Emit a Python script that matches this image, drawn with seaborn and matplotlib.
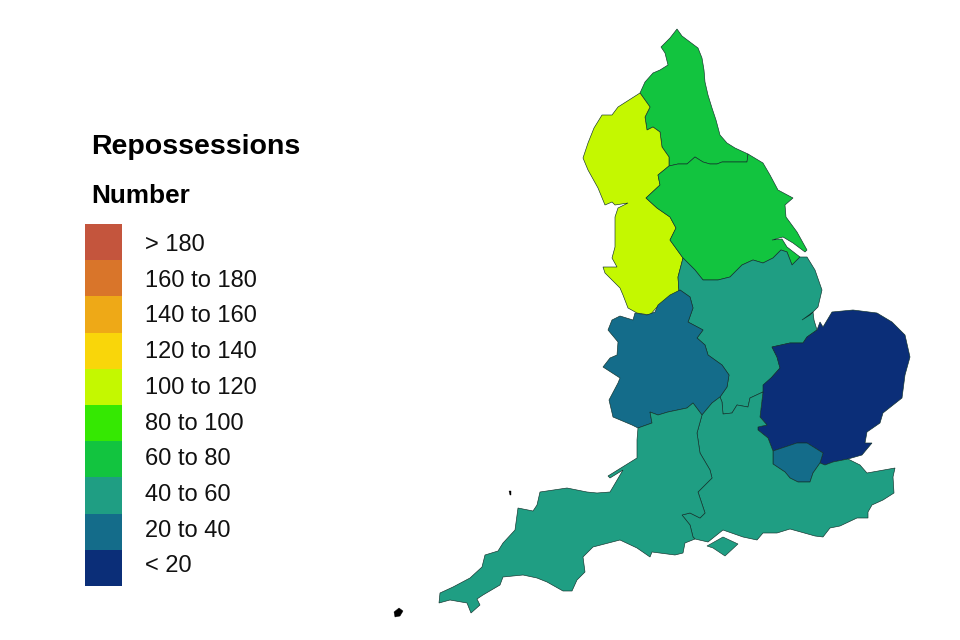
import numpy as np
import pandas as pd
import matplotlib
matplotlib.use('Agg')
import matplotlib.pyplot as plt
from matplotlib.colors import ListedColormap
import seaborn as sns

# legend bands, top to bottom
band_labels = ['> 180', '160 to 180', '140 to 160', '120 to 140', '100 to 120',
               '80 to 100', '60 to 80', '40 to 60', '20 to 40', '< 20']
band_colors = ['#C4553D', '#D9752A', '#EEA917', '#F9D60A', '#C4F800',
               '#35E802', '#12C43F', '#1F9E83', '#146C8A', '#0B2E78']

# region -> legend band
regions = ['North East', 'North West', 'Yorkshire', 'East Midlands', 'West Midlands',
           'East', 'London', 'South East', 'South West']
region_bands = ['60 to 80', '100 to 120', '60 to 80', '40 to 60', '20 to 40',
                '< 20', '20 to 40', '40 to 60', '40 to 60']

# rough region outlines traced from the map (image pixels)
north_east = [(677,29),(682,36),(690,42),(698,48),(702,58),(704,70),(705,82),(708,95),(712,108),
              (716,120),(720,135),(727,143),(735,148),(748,154),(747,162),(722,162),(717,164),
              (710,164),(703,162),(695,157),(687,164),(678,164),(669,166),(669,157),(662,147),
              (660,132),(653,127),(647,130),(645,117),(650,107),(640,93),(645,82),(653,73),
              (660,70),(668,65),(665,53),(661,47),(670,38)]
yorkshire = [(669,166),(678,164),(687,164),(695,157),(703,162),(710,164),(717,164),(722,162),
             (747,162),(748,154),(763,163),(770,175),(778,190),(793,198),(785,205),(786,217),
             (797,232),(807,250),(805,252),(793,243),(783,237),(772,240),(782,239),(787,247),
             (800,257),(792,265),(787,252),(781,250),(773,258),(763,263),(753,260),(742,265),
             (730,277),(718,280),(703,280),(695,270),(683,258),(670,240),(676,228),(670,217),
             (657,208),(646,198),(660,185),(658,175)]
north_west = [(640,93),(650,107),(645,117),(647,130),(653,127),(660,132),(662,147),(669,157),
              (669,166),(658,175),(660,185),(646,198),(657,208),(670,217),(676,228),(670,240),
              (683,258),(678,277),(679,292),(667,300),(657,307),(650,315),(637,313),(628,308),
              (623,295),(620,288),(605,273),(603,267),(617,267),(612,258),(615,247),(615,217),
              (618,208),(628,203),(615,205),(612,202),(605,205),(598,188),(588,170),(583,158),
              (588,143),(594,128),(602,115),(612,115),(618,107)]
east_midlands = [(683,258),(695,270),(703,280),(718,280),(730,277),(742,265),(753,260),(763,263),
                 (773,258),(781,250),(787,252),(792,265),(800,257),(807,257),(815,270),(822,290),
                 (818,307),(810,315),(802,320),(813,312),(814,320),(817,330),(807,337),(803,343),
                 (790,343),(772,347),(777,357),(780,368),(772,377),(763,392),(750,398),(748,407),
                 (737,405),(732,413),(723,414),(722,402),(720,397),(727,387),(729,375),(722,365),
                 (708,355),(705,345),(697,338),(703,330),(688,322),(693,308),(690,297),(680,290),
                 (679,292),(678,277)]
west_midlands = [(680,290),(690,297),(693,308),(688,322),(703,330),(697,338),(705,345),(708,355),
                 (722,365),(729,375),(727,387),(720,397),(712,403),(702,415),(693,403),(687,408),
                 (668,412),(658,415),(650,412),(652,423),(638,428),(632,425),(613,417),(609,400),
                 (618,383),(620,378),(603,367),(610,358),(617,355),(618,342),(608,330),(612,320),
                 (620,316),(633,320),(635,313),(647,315),(655,312),(658,305),(670,295)]
east = [(772,347),(790,343),(803,343),(807,337),(817,330),(820,322),(823,327),(832,312),(853,310),
        (877,313),(892,322),(905,335),(910,357),(905,375),(902,398),(883,413),(880,423),(867,432),
        (865,443),(872,443),(862,455),(848,459),(833,462),(825,465),(820,463),(823,453),(807,443),
        (797,443),(773,451),(768,438),(758,430),(758,427),(767,425),(760,417),(763,392),(763,385),
        (772,377),(780,368),(777,357)]
london = [(773,451),(797,443),(807,443),(823,453),(820,463),(813,473),(810,482),(798,482),
          (790,478),(785,472),(773,464)]
south_east = [(702,415),(712,403),(720,397),(722,402),(723,414),(732,413),(737,405),(748,407),
              (750,398),(763,392),(760,417),(767,425),(758,427),(758,430),(768,438),(773,451),
              (773,464),(785,472),(790,478),(798,482),(810,482),(813,473),(820,463),(825,465),
              (833,462),(848,459),(860,465),(867,473),(895,468),(893,477),(894,493),(883,500),
              (872,505),(868,512),(868,518),(857,518),(840,526),(830,528),(823,537),(815,536),
              (790,529),(777,533),(763,533),(757,540),(743,537),(723,530),(708,542),(695,539),
              (693,537),(690,525),(682,515),(690,513),(700,518),(705,513),(698,492),(712,478),
              (710,470),(700,453),(697,433)]
south_west = [(702,415),(693,403),(687,408),(668,412),(658,415),(650,412),(652,423),(638,428),
              (637,440),(637,458),(608,476),(610,478),(623,470),(613,487),(610,492),(597,493),
              (587,492),(567,488),(540,492),(537,505),(533,511),(518,508),(515,530),(503,543),
              (498,551),(485,555),(482,567),(470,578),(453,587),(440,593),(439,603),(450,600),
              (467,603),(471,613),(480,605),(477,599),(483,595),(500,585),(503,577),(523,575),
              (537,578),(547,582),(563,591),(572,591),(577,580),(585,572),(583,557),(593,547),
              (620,540),(637,548),(650,557),(652,552),(675,555),(683,553),(685,543),(695,539),
              (693,537),(690,525),(682,515),(690,513),(700,518),(705,513),(698,492),(712,478),
              (710,470),(700,453),(697,433)]
isle_of_wight = [(707,546),(723,537),(738,544),(725,556),(713,548)]
scilly = [(394,612),(399,608),(403,611),(400,616),(395,617)]
lundy = [(509,491),(511,491),(511,495),(510,495)]

outlines = dict(zip(regions, [north_east, north_west, yorkshire, east_midlands, west_midlands,
                              east, london, south_east, south_west]))

sns.set_theme(style='white')
plt.rcParams['font.family'] = ['Liberation Sans', 'DejaVu Sans']

fig = plt.figure(figsize=(9.6, 6.4), dpi=100)
ax = fig.add_axes([0, 0, 1, 1])
ax.set_xlim(0, 960)
ax.set_ylim(640, 0)
ax.axis('off')

color_of = dict(zip(band_labels, band_colors))
for name, band in zip(regions, region_bands):
    xs, ys = zip(*outlines[name])
    ax.fill(xs, ys, facecolor=color_of[band], edgecolor='#10302a', linewidth=0.45)

xs, ys = zip(*isle_of_wight)
ax.fill(xs, ys, facecolor=color_of['40 to 60'], edgecolor='#10302a', linewidth=0.4)
for islands in (scilly, lundy):
    xs, ys = zip(*islands)
    ax.fill(xs, ys, facecolor='black', edgecolor='black', linewidth=0.3)

# legend colour strip
strip = fig.add_axes([85 / 960, 1 - 586 / 640, 37 / 960, 362 / 640])
band_table = pd.DataFrame({'band': np.arange(len(band_labels))}, index=band_labels)
sns.heatmap(band_table, cmap=ListedColormap(band_colors), cbar=False, ax=strip,
            xticklabels=False, yticklabels=False, linewidths=0)
strip.set_xlabel('')
strip.set_ylabel('')

ax.text(91, 147, 'Repossessions', fontsize=20.5, fontweight='bold', color='black', va='center')
ax.text(91, 196, 'Number', fontsize=18.8, fontweight='bold', color='black', va='center')
for i, label in enumerate(band_labels):
    ax.text(145, 245 + 35.7 * i, label, fontsize=17, color='#111111', va='center')

fig.savefig('out.png', dpi=100, facecolor='white')
